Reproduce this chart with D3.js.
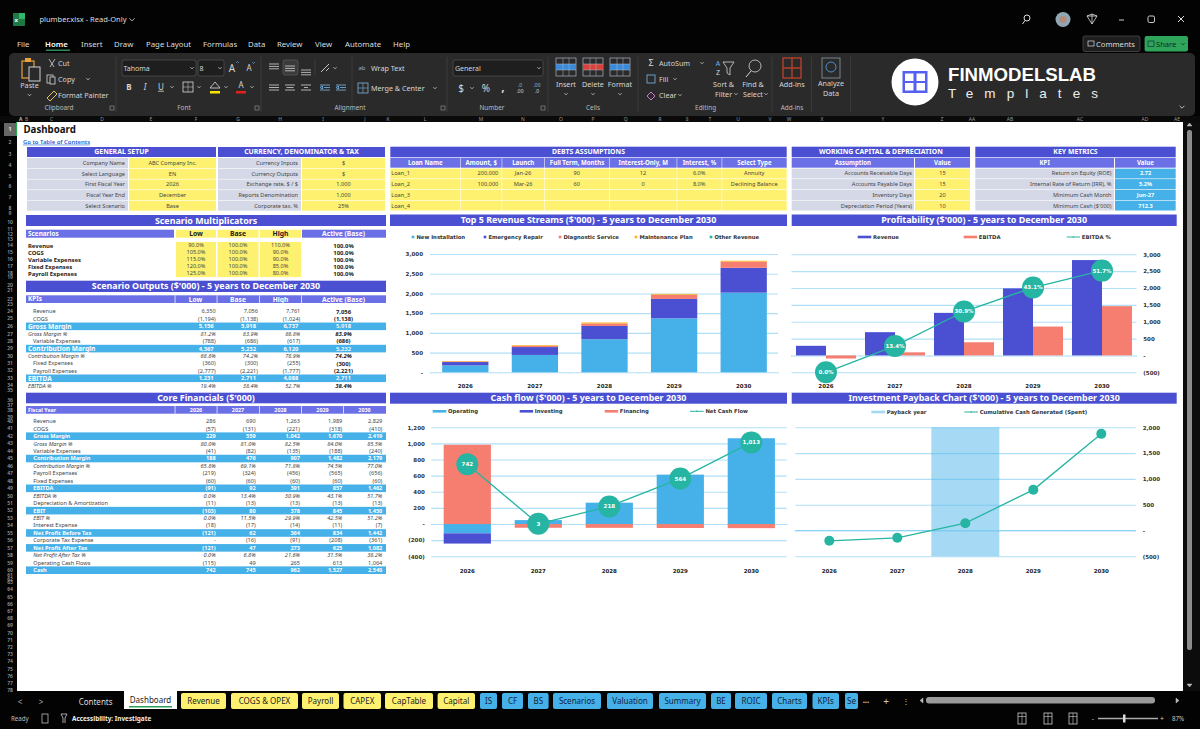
<!DOCTYPE html>
<html><head><meta charset="utf-8"><title>plumber.xlsx - Dashboard</title>
<script src="https://cdn.jsdelivr.net/npm/d3@7/dist/d3.min.js"></script>
<style>html,body{margin:0;padding:0;background:#000;overflow:hidden}svg{display:block}</style>
</head><body><div id="app"></div>
<script>
// ---------- DATA ----------
const years = ["2026","2027","2028","2029","2030"];
const newInstallation = [175,440,840,1370,2020];
const emergencyRepair = [85,200,335,490,630];
const diagnosticService = [15,35,65,110,160];
const maintenancePlan = [11,15,23,19,19];
const otherRevenue = [0,0,0,0,0];
const revenueNames = ["New Installation","Emergency Repair","Diagnostic Service","Maintenance Plan","Other Revenue"];
const profitRevenue = [286,690,1263,1989,2829];
const profitEbitda = [-91,92,391,857,1462];
const profitEbitdaPct = [0.0,13.4,30.9,43.1,51.7];
const cashOperating = [-115,49,265,613,1064];
const cashInvesting = [-127,0,0,0,0];
const cashFinancing = [984,-46,-47,-49,-51];
const cashNet = [742,3,218,564,1013];
const paybackCumulative = [-200,-142,142,788,1873];
const paybackYear = ["2028"];
const ticksRevenue = [0,500,1000,1500,2000,2500,3000];
const ticksProfit = [-500,0,500,1000,1500,2000,2500,3000];
const ticksCash = [-400,-200,0,200,400,600,800,1000,1200];
const ticksPayback = [-500,0,500,1000,1500,2000];

const setupLabels = ["Company Name","Select Language","First Fiscal Year","Fiscal Year End","Select Scenario"];
const setupValues = ["ABC Company Inc.","EN","2026","December","Base"];
const currencyLabels = ["Currency Inputs","Currency Outputs","Exchange rate, $ / $","Reports Denomination","Corporate tax, %"];
const currencyValues = ["$","$","1.000","1,000","25%"];
const debtHeaders = ["Loan Name","Amount, $","Launch","Full Term, Months","Interest-Only, M","Interest, %","Select Type"];
const debtRows = [["Loan_1","200,000","Jan-26","90","12","6.0%","Annuity"],["Loan_2","100,000","Mar-26","60","0","8.0%","Declining Balance"],["Loan_3","","","","","",""],["Loan_4","","","","","",""]];
const wcLabels = ["Accounts Receivable Days","Accounts Payable Days","Inventory Days","Depreciation Period (Years)"];
const wcValues = ["15","15","20","10"];
const kpiLabels = ["Return on Equity (ROE)","Internal Rate of Return (IRR), %","Minimum Cash Month","Minimum Cash ($'000)"];
const kpiValues = ["2.72","5.2%","Jun-27","712.3"];
const scenarioNames = ["Revenue","COGS","Variable Expenses","Fixed Expenses","Payroll Expenses"];
const scenarioLow = ["90.0%","105.0%","115.0%","120.0%","125.0%"];
const scenarioBase = ["100.0%","100.0%","100.0%","100.0%","100.0%"];
const scenarioHigh = ["110.0%","90.0%","90.0%","85.0%","80.0%"];
const scenarioActive = ["100.0%","100.0%","100.0%","100.0%","100.0%"];
const outputLabels = ["Revenue","COGS","Gross Margin","Gross Margin %","Variable Expenses","Contribution Margin","Contribution Margin %","Fixed Expenses","Payroll Expenses","EBITDA","EBITDA %"];
const outputLow = ["6,350","(1,194)","5,156","81.2%","(788)","4,367","68.8%","(360)","(2,777)","1,231","19.4%"];
const outputBase = ["7,056","(1,138)","5,918","83.9%","(686)","5,232","74.2%","(300)","(2,221)","2,711","38.4%"];
const outputHigh = ["7,761","(1,024)","6,737","86.8%","(617)","6,120","78.9%","(255)","(1,777)","4,088","52.7%"];
const outputActive = ["7,056","(1,138)","5,918","83.9%","(686)","5,232","74.2%","(300)","(2,221)","2,711","38.4%"];
const coreLabels = ["Revenue","COGS","Gross Margin","Gross Margin %","Variable Expenses","Contribution Margin","Contribution Margin %","Payroll Expenses","Fixed Expenses","EBITDA","EBITDA %","Depreciation & Amortization","EBIT","EBIT %","Interest Expense","Net Profit Before Tax","Corporate Tax Expense","Net Profit After Tax","Net Profit After Tax %","Operating Cash Flows","Cash"];
const core2026 = ["286","(57)","229","80.0%","(41)","188","65.8%","(219)","(60)","(91)","0.0%","(11)","(103)","0.0%","(18)","(121)","-","(121)","0.0%","(115)","742"];
const core2027 = ["690","(131)","559","81.0%","(82)","476","69.1%","(324)","(60)","92","13.4%","(13)","80","11.5%","(17)","62","(16)","47","6.8%","49","745"];
const core2028 = ["1,263","(221)","1,042","82.5%","(135)","907","71.8%","(456)","(60)","391","30.9%","(13)","378","29.9%","(14)","364","(91)","273","21.6%","265","962"];
const core2029 = ["1,989","(318)","1,670","84.0%","(188)","1,482","74.5%","(565)","(60)","857","43.1%","(13)","845","42.5%","(11)","834","(208)","625","31.5%","613","1,527"];
const core2030 = ["2,829","(410)","2,419","85.5%","(240)","2,179","77.0%","(656)","(60)","1,462","51.7%","(13)","1,450","51.2%","(7)","1,442","(361)","1,082","38.2%","1,064","2,540"];
const bandLabels = ["Gross Margin","Contribution Margin","EBITDA","EBIT","Net Profit Before Tax","Net Profit After Tax","Cash"];
const menuItems = ["File","Home","Insert","Draw","Page Layout","Formulas","Data","Review","View","Automate","Help"];
const yellowTabs = ["Revenue","COGS & OPEX","Payroll","CAPEX","CapTable","Capital"];
const blueTabs = ["IS","CF","BS","Scenarios","Valuation","Summary","BE","ROIC","Charts","KPIs","Se"];
const columnLetters = ["C","D","E","F","G","H","I","J","K","L","M","N","O","P","Q","R","S","T","U","V","W","X","Y","Z","AA","AB","AC","AD","AE"];

// ---------- COLOURS / FONTS ----------
const BLUE="#4B50D2", SUB="#6B70E6", SKY="#45B1E8", SALMON="#F57E70", TEAL="#25B5A2", GOLD="#FDB515", YEL="#FFF170", GREY="#D5D8E6", GRID="#B0E0F7";
const NOTO='"Noto Sans",sans-serif', DJ='"DejaVu Sans",sans-serif', LIB='"Liberation Sans",sans-serif';
const svg = d3.select("#app").append("svg").attr("width",1200).attr("height",729).attr("viewBox","0 0 1200 729");
const t = (g,x,y,s,o={}) => g.append("text").attr("x",x).attr("y",y).attr("dy",".35em").text(s)
  .attr("font-family",o.font||NOTO).attr("font-size",o.size||5.6).attr("font-weight",o.w||400)
  .attr("font-style",o.i?"italic":"normal").attr("fill",o.c||"#444").attr("text-anchor",o.a||"start")
  .attr("text-decoration",o.u?"underline":null);
const r = (g,x0,y0,x1,y1,c,o={}) => g.append("rect").attr("x",x0).attr("y",y0).attr("width",x1-x0).attr("height",y1-y0).attr("fill",c)
  .attr("rx",o.rx||0).attr("stroke",o.s||"none").attr("stroke-width",o.sw||1);
const p = (g,d,c,sw=1,f="none") => g.append("path").attr("d",d).attr("stroke",c).attr("stroke-width",sw).attr("fill",f);
const chev = (g,x,y,c="#ccc",s=1.8) => p(g,`M${x-s},${y-s/2}L${x},${y+s/2}L${x+s},${y-s/2}`,c,.8);

// ---------- WINDOW CHROME ----------
const chrome = svg.append("g");
r(chrome,0,0,1200,729,"#030303");
r(chrome,13,13,25,26,"#1D7A45",{rx:1}); r(chrome,19,13,25,19,"#34B56F"); t(chrome,14.5,20,"x",{c:"#fff",size:6,w:700});
t(chrome,39.4,19.6,"plumber.xlsx  -  Read-Only",{c:"#ddd",size:7.5});
chev(chrome,132,19.6,"#ddd",2.6);
const menuX=[17,45,81,114,146,203,248,277,315,345,393];
menuItems.forEach((m,i)=>t(chrome,menuX[i],44.5,m,{c:i==1?"#fff":"#ddd",size:7.8,w:i==1?600:400}));
r(chrome,46,49.6,70,50.8,"#3AA76D");
// top right
chrome.append("circle").attr("cx",1027).attr("cy",18).attr("r",3).attr("fill","none").attr("stroke","#ddd");
p(chrome,"M1025,20.5L1022.5,24","#ddd");
chrome.append("circle").attr("cx",1063).attr("cy",19.5).attr("r",7.5).attr("fill","#8FA6B5");
chrome.append("circle").attr("cx",1063).attr("cy",19.5).attr("r",3.6).attr("fill","#B58C78");
p(chrome,"M1087,16l5,-2l5,2l-5,8z M1087,16h10 M1092,14v10","#ddd",.8);
p(chrome,"M1119,20h5","#ccc",1);
r(chrome,1148,16,1154.5,22.5,"none",{s:"#ccc",sw:1,rx:1.5});
p(chrome,"M1178,16l6,6 M1184,16l-6,6","#ddd",1);
r(chrome,1083,36,1140,51.5,"#1f1f1f",{s:"#4a4a4a",sw:.8,rx:2});
r(chrome,1088,41,1094,46,"none",{s:"#ddd",sw:.7});
t(chrome,1096,44,"Comments",{c:"#ddd",size:7.6});
r(chrome,1144.6,36,1188,51.5,"#2EA55A",{rx:2});
r(chrome,1148,41,1154,46.5,"none",{s:"#134",sw:.7});
t(chrome,1156,44,"Share",{c:"#0c2f1b",size:7.6}); chev(chrome,1183,44,"#0c2f1b",1.6);

// ---------- RIBBON ----------
const rb = svg.append("g");
const ink="#d6d6d6";
r(rb,9,53,1195,116,"#2A2A2A",{rx:5});
[116,261,352,447,548,638,772,811.6,850.6].forEach(x=>p(rb,`M${x},57V112`,"#444",.7));
p(rb,"M315,59V76","#444",.7);
[["Clipboard",59],["Font",184],["Alignment",350],["Number",492],["Cells",593],["Editing",705.6],["Add-ins",792]].forEach(d=>t(rb,d[1],108,d[0],{a:"middle",c:"#bbb",size:6.4}));
[112,257,443,543].forEach(x=>r(rb,x-2,106,x+2,110,"none",{s:"#999",sw:.6}));
// clipboard group
r(rb,22,61,34,78,"none",{s:"#E8A33D",sw:1.2}); r(rb,25,58,31,62,"#E8A33D"); r(rb,29,67,40,81,"#2A2A2A",{s:"#cfcfcf",sw:1});
t(rb,29.5,85,"Paste",{a:"middle",c:ink,size:7.2}); chev(rb,29.5,95,ink,1.6);
p(rb,"M49,59l5,8 M55,59l-5,8",ink,.8); t(rb,58,63,"Cut",{c:ink,size:7.2});
r(rb,47,75,53,83,"none",{s:ink,sw:.8}); r(rb,50,77,55,84,"#2A2A2A",{s:ink,sw:.8}); t(rb,58,79,"Copy",{c:ink,size:7.2}); chev(rb,88,79,ink,1.6);
p(rb,"M47,98l7,-7l3,3l-7,7z","#E8C060",1); t(rb,58,95,"Format Painter",{c:ink,size:7.2});
// font group
r(rb,122,60,196,76,"#1E1E1E",{s:"#555",sw:.7,rx:2}); t(rb,123.5,68.5,"Tahoma",{c:ink,size:7}); chev(rb,192,68,ink,1.6);
r(rb,198,60,224,76,"#1E1E1E",{s:"#555",sw:.7,rx:2}); t(rb,199.5,68.5,"8",{c:ink,size:7}); chev(rb,220,68,ink,1.6);
t(rb,232,68,"A",{a:"middle",c:ink,size:10}); t(rb,249,68,"A",{a:"middle",c:ink,size:8});
p(rb,"M236,63l1.5,-1.5l1.5,1.5","#6a9fd8",.7); p(rb,"M252,62l1.5,1.5l1.5,-1.5","#6a9fd8",.7);
t(rb,129,87,"B",{a:"middle",c:ink,size:8,w:700}); t(rb,145,87,"I",{a:"middle",c:ink,size:8,i:1}); t(rb,161,87,"U",{a:"middle",c:ink,size:8,u:1});
chev(rb,172,87,ink,1.5); r(rb,183,82,193,92,"none",{s:ink,sw:.8}); p(rb,"M188,82V92M183,87H193",ink,.5); chev(rb,199,87,ink,1.5);
p(rb,"M210,88l5,-6l5,6z","#ddd",.8); r(rb,210,91,220,93.5,"#F7E300"); chev(rb,226,87,ink,1.5);
t(rb,241,85.5,"A",{a:"middle",c:ink,size:8}); r(rb,236,91,246,93.5,"#E2201C"); chev(rb,252,87,ink,1.5);
// alignment group
r(rb,283,60,298,75,"#3a3a3a",{s:"#666",sw:.6,rx:2});
[[274,64],[290,66],[306,70]].forEach(a=>p(rb,`M${a[0]-5},${a[1]}h10M${a[0]-5},${a[1]+2.4}h10M${a[0]-5},${a[1]+4.8}h10`,ink,.8));
p(rb,"M321,72l8,-8M326,71l3,-3",ink,.9); chev(rb,335,68,ink,1.5);
[[274,0],[290,1.5],[306,3]].forEach(a=>p(rb,`M${a[0]-5},85h10M${a[0]-5+a[1]},87.5h${10-2*a[1]}M${a[0]-5},90h10`,ink,.8));
[325,341].forEach(x=>p(rb,`M${x-5},85h10M${x-1},87.5h6M${x-5},90h10M${x-5},87.5l2.5,-1.5v3z`,"#7db8e6",.8));
t(rb,362,68,"ab",{a:"middle",c:"#aaa",size:6}); t(rb,371,68,"Wrap Text",{c:ink,size:7.2});
r(rb,358,83,368,93,"none",{s:"#78b4e2",sw:.8}); p(rb,"M358,88h10M363,83v10","#78b4e2",.6); t(rb,371,88,"Merge & Center",{c:ink,size:7.2}); chev(rb,435,88,ink,1.5);
// number group
r(rb,453,60,543,76,"#1E1E1E",{s:"#555",sw:.7,rx:2}); t(rb,455,68.5,"General",{c:ink,size:7}); chev(rb,539,68,ink,1.6);
t(rb,461,88,"$",{a:"middle",c:ink,size:10}); chev(rb,472,88,ink,1.5); t(rb,486,88,"%",{a:"middle",c:ink,size:10}); t(rb,503,87,",",{a:"middle",c:ink,size:12,w:700});
t(rb,520,85,".0",{a:"middle",c:"#7db8e6",size:5}); t(rb,520,91,".00",{a:"middle",c:ink,size:5}); t(rb,537,85,".00",{a:"middle",c:"#7db8e6",size:5}); t(rb,537,91,".0",{a:"middle",c:ink,size:5});
// cells
[[566,"Insert","#3B8AD8"],[593,"Delete","#D8423B"],[620,"Format","#3B8AD8"]].forEach(c=>{
  r(rb,c[0]-10,58,c[0]+10,76,"none",{s:"#a8b4c4",sw:.7}); r(rb,c[0]-10,64,c[0]+10,70,c[2]);
  p(rb,`M${c[0]-10},64h20M${c[0]-10},70h20M${c[0]-3},58v18M${c[0]+3},58v18`,"#a8b4c4",.5);
  t(rb,c[0],84,c[1],{a:"middle",c:ink,size:7.2}); chev(rb,c[0],94,ink,1.5);});
// editing
t(rb,651,63,"Σ",{a:"middle",c:ink,size:9}); t(rb,659,63,"AutoSum",{c:ink,size:7.2}); chev(rb,702,63,ink,1.5);
r(rb,647,75,655,83,"none",{s:"#7db8e6",sw:.8}); t(rb,659,79,"Fill",{c:ink,size:7.2}); chev(rb,675,79,ink,1.5);
p(rb,"M647,96l4,-4l4,4l-4,4z","#D77BD0",1); t(rb,659,95,"Clear",{c:ink,size:7.2}); chev(rb,680,95,ink,1.5);
t(rb,718,64,"A",{a:"middle",c:"#6fb1e8",size:7}); t(rb,718,73,"Z",{a:"middle",c:ink,size:7});
p(rb,"M723,62h11l-4,6v7l-3,-2v-5z",ink,.8);
t(rb,723.6,84,"Sort &",{a:"middle",c:ink,size:7.2}); t(rb,723.6,94,"Filter",{a:"middle",c:ink,size:7.2}); chev(rb,736,94,ink,1.5);
rb.append("circle").attr("cx",755).attr("cy",66).attr("r",6).attr("fill","none").attr("stroke",ink).attr("stroke-width",.8); p(rb,"M751,71l-5,6",ink,1);
t(rb,753,84,"Find &",{a:"middle",c:ink,size:7.2}); t(rb,753,94,"Select",{a:"middle",c:ink,size:7.2}); chev(rb,766,94,ink,1.5);
// add-ins, analyze
r(rb,783,58,801,78,"none",{s:"#B5402A",sw:1.4}); p(rb,"M792,58v20M783,68h18","#B5402A",1.4);
t(rb,792,84,"Add-ins",{a:"middle",c:ink,size:7.2});
r(rb,822,58,840,78,"none",{s:"#8d98a6",sw:.8}); rb.append("circle").attr("cx",831).attr("cy",67).attr("r",5).attr("fill","none").attr("stroke","#4d8fd0");
t(rb,831,83,"Analyze",{a:"middle",c:ink,size:7.2}); t(rb,831,93,"Data",{a:"middle",c:ink,size:7.2});
// logo
rb.append("circle").attr("cx",915).attr("cy",82).attr("r",23.5).attr("fill","#fff");
r(rb,902.5,71,927.5,93,"#5560F0"); [[905,73.5],[916.5,73.5],[905,83],[916.5,83]].forEach(a=>r(rb,a[0],a[1],a[0]+8.5,a[1]+7.5,"#fff"));
t(rb,948,74.5,"FINMODELSLAB",{font:LIB,c:"#fff",size:18,w:700}).attr("textLength",148).attr("lengthAdjust","spacingAndGlyphs");
t(rb,948,93.5,"Templates",{font:LIB,c:"#eee",size:13.5}).attr("textLength",150).attr("lengthAdjust","spacing");
chev(rb,1182,107,"#ddd",2.4);

// ---------- SHEET FRAME ----------
const sh = svg.append("g");
r(sh,0,116,1200,122,"#0a0a0a");
const colX=[51.7,102,151,196,238,280,323,365,388,425,481,523,561,593,625.6,660,687,710,738,770,789,822,883,942,972,1010,1080,1145,1177];
columnLetters.forEach((c,i)=>t(sh,colX[i],119,c,{a:"middle",c:"#999",size:5}));
t(sh,19,119,"A",{c:"#bbb",size:5,w:700});t(sh,25,119,"B",{c:"#999",size:5});
r(sh,17,122,1183,691,"#fff");
r(sh,4,123,16,136,"#666"); r(sh,16,122,17.2,136,"#2EA55A");
const rowCenters=[129.5,142,154,165,176,186.5,197,208,213,222.7,229,234.7,239,245.5,252.5,259.5,266.5,273.5,277.5,285.3,290.5,299,304,311.5,318.5,326,334,341,348.3,356,363.3,370.5,378,385.5,390,400,405,410.5,417,421.3];
for(let i=41;i<=60;i++) rowCenters.push(421.3+7.445*(i-40));
for(let i=61;i<=62;i++) rowCenters.push(574.8+(i-61)*4);
for(let i=63;i<=78;i++) rowCenters.push(582.5+(i-63)*7.2);
rowCenters.forEach((y,i)=>t(sh,10,y,String(i+1),{a:"middle",c:i==0?"#fff":"#999",size:i==0?5.4:5,w:600}));
// vertical scrollbar
r(sh,1183,122,1200,691,"#0c0c0c"); r(sh,1187,130,1192,650,"#8c8c8c",{rx:2});
p(sh,"M1187,126l2.5,-3l2.5,3z","#bbb",.5,"#bbb"); p(sh,"M1187,684l2.5,3l2.5,-3z","#bbb",.5,"#bbb");
// tabs
const tb=svg.append("g");
t(tb,20,702,"<",{a:"middle",c:"#aaa",size:8}); t(tb,41,702,">",{a:"middle",c:"#aaa",size:8});
t(tb,95.6,702,"Contents",{a:"middle",c:"#ddd",size:8});
r(tb,124,691,177,709,"#fff"); t(tb,150.5,700.5,"Dashboard",{a:"middle",c:"#222",size:8}); r(tb,129,706,172,707.5,"#2B9E55");
const yTabX=[[181,226],[231,298],[302,339],[343.5,381],[385,433],[437.6,475]];
yellowTabs.forEach((n,i)=>{r(tb,yTabX[i][0],693,yTabX[i][1],709,"#FFF170",{rx:2});t(tb,(yTabX[i][0]+yTabX[i][1])/2,701.5,n,{a:"middle",c:"#222",size:8});});
const bTabX=[[480,497],[502,523],[528,548.6],[553,601],[607,653],[659,706],[711,731],[735,767],[772,807],[812.5,839],[845,858]];
blueTabs.forEach((n,i)=>{r(tb,bTabX[i][0],693,bTabX[i][1],709,SKY,{rx:2});t(tb,(bTabX[i][0]+bTabX[i][1])/2,701.5,n,{a:"middle",c:"#12233a",size:8});});
t(tb,866,700,"...",{a:"middle",c:"#ccc",size:8,w:700}); t(tb,886,701,"+",{a:"middle",c:"#ccc",size:10}); t(tb,906,701,"⋮",{a:"middle",c:"#ccc",size:8});
r(tb,926,697,1155,703.5,"#9a9a9a",{rx:3}); p(tb,"M923,698l-3,2.5l3,2.5z","#bbb",.5,"#bbb"); p(tb,"M1176,698l3,2.5l-3,2.5z","#bbb",.5,"#bbb");
t(tb,11,718.5,"Ready",{c:"#bbb",size:6.2}); r(tb,42,714,48,723,"none",{s:"#bbb",sw:.8});
p(tb,"M61,714h6l-2,4v5M61,714l2,4v5","#ccc",.8); t(tb,72,718.5,"Accessibility: Investigate",{c:"#eee",size:6.4,w:700});
[1022,1048,1073].forEach(x=>{r(tb,x-4,713,x+4,724,"none",{s:"#ccc",sw:.8});p(tb,`M${x-4},716.5h8M${x},713v11`,"#ccc",.6);});
t(tb,1093,718.5,"-",{a:"middle",c:"#ccc",size:7}); p(tb,"M1098,718.5H1158","#aaa",1.3); r(tb,1123,714.5,1125.5,722.5,"#ddd"); t(tb,1162,718.5,"+",{a:"middle",c:"#ccc",size:7}); t(tb,1172,718.5,"87%",{c:"#ccc",size:6.2});

// ---------- SHEET TABLES ----------
const s = svg.append("g");
t(s,23.5,129.7,"Dashboard",{c:"#111",size:9.7,w:700});
t(s,23,141.6,"Go to Table of Contents",{c:"#1F5FD6",size:5.9,w:600,u:1});
const head=(x0,x1,y0,y1,label,size=6.9,col=BLUE)=>{r(s,x0,y0,x1,y1,col);t(s,(x0+x1)/2,(y0+y1)/2,label,{a:"middle",c:"#fff",size,w:700});};
// setup blocks
head(27,216,147,157,"GENERAL SETUP"); head(218,385,147,157,"CURRENCY, DENOMINATOR & TAX");
const rowY=[163,173.7,184.2,195,205.7], rowEdges=[157.7,168.4,179.2,189.8,200.6,211];
setupLabels.forEach((l,i)=>{const y0=rowEdges[i]+.3,y1=rowEdges[i+1]-.3;
  r(s,27,y0,128,y1,GREY);r(s,129,y0,216,y1,YEL);t(s,125,rowY[i],l,{a:"end"});t(s,172.5,rowY[i],setupValues[i],{a:"middle"});
  r(s,218,y0,301,y1,GREY);r(s,302,y0,385,y1,YEL);t(s,298,rowY[i],currencyLabels[i],{a:"end"});t(s,343.5,rowY[i],currencyValues[i],{a:"middle"});});
// debts
head(390.3,786.7,146.7,157.3,"DEBTS ASSUMPTIONS");
const debtE=[390.3,460.3,501.7,544.3,609.3,676.7,721.7,786.7];
debtHeaders.forEach((h,i)=>head(debtE[i]+(i?.5:0),debtE[i+1],158,167.7,h,6.1,SUB));
const dY=[173.3,184.3,195.3,206], dE=[168.3,178.8,189.6,200.3,210.8];
debtRows.forEach((row,j)=>row.forEach((v,i)=>{r(s,debtE[i]+(i?.5:0),dE[j]+.3,debtE[i+1],dE[j+1]-.3,YEL);
  const o=i==0?[debtE[0]+1,"start"]:i==1?[498.3,"end"]:[(debtE[i]+debtE[i+1])/2,"middle"];
  if(v) t(s,o[0],dY[j],v,{a:o[1]});}));
// working capital + KPIs
head(791.7,970,146.7,157.3,"WORKING CAPITAL & DEPRECIATION"); head(975.3,1175.7,146.7,157.3,"KEY METRICS");
head(791.7,914,158,167.7,"Assumption",6.1,SUB); head(915,970,158,167.7,"Value",6.1,SUB);
head(975.3,1114,158,167.7,"KPI",6.1,SUB); head(1115,1175.7,158,167.7,"Value",6.1,SUB);
wcLabels.forEach((l,j)=>{const y0=dE[j]+.3,y1=dE[j+1]-.3;
  r(s,791.7,y0,914,y1,GREY);r(s,915,y0,970,y1,YEL);t(s,912,dY[j],l,{a:"end"});t(s,942.5,dY[j],wcValues[j],{a:"middle"});
  r(s,975.3,y0,1114,y1,GREY);r(s,1115,y0,1175.7,y1,SKY);t(s,1111.5,dY[j],kpiLabels[j],{a:"end"});t(s,1145.5,dY[j],kpiValues[j],{a:"middle",c:"#fff",w:700});});
// scenario multiplicators
head(26,386,215,226,"Scenario Multiplicators",8.9);
const c3=[[176,216],[217.5,258.5],[260,301]];
r(s,26,229.7,174,237.7,SUB); t(s,28,233.7,"Scenarios",{c:"#fff",size:6.4,w:700});
["Low","Base","High"].forEach((h,i)=>{r(s,c3[i][0],229.7,c3[i][1],237.7,YEL);t(s,(c3[i][0]+c3[i][1])/2,233.7,h,{a:"middle",c:"#222",size:6.8,w:700});});
r(s,302,229.7,386,237.7,SUB); t(s,343.5,233.7,"Active (Base)",{a:"middle",c:"#fff",size:6.7,w:700});
scenarioNames.forEach((n,i)=>{const y=245.5+7*i;t(s,28,y,n,{c:"#222",size:5.9,w:700});
  [scenarioLow,scenarioBase,scenarioHigh].forEach((a,k)=>{r(s,c3[k][0],y-3.6,c3[k][1],y+3.6,YEL);t(s,(c3[k][0]+c3[k][1])/2,y,a[i],{a:"middle"});});
  t(s,343.5,y,scenarioActive[i],{a:"middle",c:"#222",size:5.9,w:700});});
// scenario outputs
head(26,386,280.7,292,"Scenario Outputs ($'000) - 5 years to December 2030",8.9);
r(s,26,295.3,386,303,SUB); t(s,28,299.2,"KPIs",{c:"#fff",size:6.4,w:700});
[[195.5,"Low"],[238,"Base"],[280.5,"High"],[343.5,"Active (Base)"]].forEach(d=>t(s,d[0],299.2,d[1],{a:"middle",c:"#fff",size:6.7,w:700}));
[174.7,216.7,259.3,301.3].forEach(x=>r(s,x,295.3,x+.7,303,"#fff"));
outputLabels.forEach((l,i)=>{const y=311.5+7.42*i, band=bandLabels.includes(l), pct=l.endsWith("%");
  if(band) r(s,26,y-3.8,386,y+3.8,SKY);
  const col=band?"#fff":"#444";
  t(s,band||pct?28:33,y,l,{c:col,size:band?6.6:5.6,w:band?700:400,i:pct});
  [[outputLow,215.7],[outputBase,258],[outputHigh,300.3]].forEach(a=>t(s,band?a[1]-2:a[1],y,a[0][i],{a:"end",c:col,size:band?5.8:5.6,w:band?700:400,i:pct}));
  t(s,343.5,y,outputActive[i],{a:"middle",c:band?"#fff":"#222",size:5.9,w:band?600:700,i:pct});});
// core financials
head(26,386,392.7,403.3,"Core Financials ($'000)",8.9);
r(s,26,406,386,413.7,SUB); t(s,28,409.9,"Fiscal Year",{c:"#fff",size:5.4,w:700});
[174.7,216.7,259.3,301.3,343.3].forEach(x=>r(s,x,406,x+.7,413.7,"#fff"));
years.forEach((y,i)=>t(s,[196,238,280.5,322.5,364.5][i],409.9,y,{a:"middle",c:"#fff",size:5.4,w:700}));
coreLabels.forEach((l,i)=>{const y=421.3+7.445*i, band=bandLabels.includes(l), pct=l.endsWith("%");
  if(band) r(s,26,y-3.8,386,y+3.8,SKY);
  const col=band?"#fff":"#444";
  t(s,33.3,y,l,{c:col,size:5.6,w:band?700:400,i:pct});
  [[core2026,215.7],[core2027,255.7],[core2028,300],[core2029,342.3],[core2030,382.3]].forEach(a=>t(s,a[1],y,a[0][i],{a:"end",c:col,size:5.6,w:band?700:400,i:pct}));});

// ---------- CHARTS ----------
const TICK={font:DJ,size:5.3,w:700,c:"#333"};
const fmtTick=v=>v===0?"-":v<0?`(${d3.format(",")(-v)})`:d3.format(",")(v);
const styleAxis=(g)=>{g.select(".domain").remove();
  g.selectAll(".tick line").attr("stroke",GRID).attr("stroke-width",1.1);
  g.selectAll(".tick text").attr("font-family",DJ).attr("font-size",5.5).attr("font-weight",700).attr("fill","#333");};
function frame(title,x0,x1,y0,y1){const c=svg.append("g");r(c,x0,y0,x1,y1,BLUE);t(c,(x0+x1)/2,(y0+y1)/2,title,{a:"middle",c:"#fff",size:8.95,w:700});return c;}
function bottomAxis(c,x,baseY,labelY){
  const g=c.append("g").attr("transform",`translate(0,${labelY})`).call(d3.axisBottom(x).tickSize(0).tickPadding(0));
  g.select(".domain").remove();
  g.selectAll("text").attr("dy",".35em").attr("y",0).attr("font-family",DJ).attr("font-size",5.5).attr("font-weight",700).attr("fill","#222");
  // tick marks at the category boundaries along the zero line
  const step=x.step(),[a,b]=x.range();
  c.append("g").selectAll("line").data(d3.range(x.domain().length+1)).join("line")
    .attr("x1",i=>a+i*step).attr("x2",i=>a+i*step).attr("y1",baseY).attr("y2",baseY+1.6).attr("stroke",GRID).attr("stroke-width",.7);
}
function legendRect(c,x,y,w,label,color){r(c,x,y-1.3,x+w,y+1.3,color);t(c,x+w+1.7,y,label,TICK);}
function legendLine(c,x,y,w,label,color){p(c,`M${x},${y}h${w}`,color,1);c.append("circle").attr("cx",x+w/2).attr("cy",y).attr("r",.8).attr("fill",color);t(c,x+w+1.7,y,label,TICK);}
function dots(c,x,y,vals,rad,labels){
  c.append("path").datum(vals).attr("fill","none").attr("stroke",TEAL).attr("stroke-width",1.3)
   .attr("d",d3.line().x((d,i)=>x(years[i])+x.bandwidth()/2).y(d=>y(d)));
  const n=c.append("g").selectAll("g").data(vals).join("g").attr("transform",(d,i)=>`translate(${x(years[i])+x.bandwidth()/2},${y(d)})`);
  n.append("circle").attr("r",rad).attr("fill",TEAL);
  if(labels) n.append("text").attr("text-anchor","middle").attr("dy",".35em").attr("font-family",DJ).attr("font-size",5.5).attr("font-weight",700).attr("fill","#fff").text((d,i)=>labels[i]);
}

// Top 5 revenue streams
{const c=frame("Top 5 Revenue Streams ($'000) - 5 years to December 2030",390,787,214.5,226);
 const x=d3.scaleBand().domain(years).range([430.5,778.5]).paddingInner(.335).paddingOuter(.1675);
 const y=d3.scaleLinear().domain([0,3000]).range([372.3,254]);
 c.append("g").attr("transform","translate(430,0)").call(d3.axisLeft(y).tickValues(ticksRevenue).tickFormat(fmtTick).tickSize(-348).tickPadding(7)).call(styleAxis);
 const rows=years.map((yr,i)=>({yr,a:newInstallation[i],b:emergencyRepair[i],c:diagnosticService[i],d:maintenancePlan[i],e:otherRevenue[i]}));
 const series=d3.stack().keys(["a","b","c","d","e"])(rows), cols=[SKY,BLUE,SALMON,GOLD,TEAL];
 c.append("g").selectAll("g").data(series).join("g").attr("fill",(d,i)=>cols[i]).selectAll("rect").data(d=>d).join("rect")
  .attr("x",d=>x(d.data.yr)).attr("width",x.bandwidth()).attr("y",d=>y(d[1])).attr("height",d=>y(d[0])-y(d[1]));
 bottomAxis(c,x,372.3,385.7);
 [413,485,560,636,711].forEach((lx,i)=>{r(c,lx-1.3,235.7,lx+1.3,238.3,cols[i]);t(c,lx+3.4,237,revenueNames[i],TICK);});}

// Profitability
{const c=frame("Profitability ($'000) - 5 years to December 2030",791.7,1176.7,214.5,226);
 const x=d3.scaleBand().domain(years).range([791.5,1136.5]).paddingInner(.13).paddingOuter(.065);
 const sub=d3.scaleBand().domain(["rev","ebitda"]).range([0,x.bandwidth()]);
 const y=d3.scaleLinear().domain([-500,3000]).range([372.3,254.3]);
 const y2=d3.scaleLinear().domain([0,60]).range([372.3,254.3]);
 c.append("g").attr("transform","translate(1136.5,0)").call(d3.axisRight(y).tickValues(ticksProfit).tickFormat(fmtTick).tickSize(-345).tickPadding(6.8)).call(styleAxis);
 [["rev",profitRevenue,BLUE],["ebitda",profitEbitda,SALMON]].forEach(([k,v,col])=>{
  c.append("g").selectAll("rect").data(v).join("rect").attr("fill",col).attr("x",(d,i)=>x(years[i])+sub(k)).attr("width",sub.bandwidth())
   .attr("y",d=>y(Math.max(d,0))).attr("height",d=>Math.abs(y(d)-y(0)));});
 dots(c,x,y2,profitEbitdaPct,11,profitEbitdaPct.map(d=>d.toFixed(1)+"%"));
 bottomAxis(c,x,y(0),386.3);
 legendRect(c,857.7,237,13.6,"Revenue",BLUE); legendRect(c,963.7,237,13.4,"EBITDA",SALMON); legendLine(c,1066.7,237,13.4,"EBITDA %",TEAL);}

// Cash flow
{const c=frame("Cash flow ($'000) - 5 years to December 2030",390,787,392.7,403.7);
 const x=d3.scaleBand().domain(years).range([431.8,786.8]).paddingInner(.335).paddingOuter(.1675);
 const y=d3.scaleLinear().domain([-400,1200]).range([556.3,427.3]);
 c.append("g").attr("transform","translate(431.3,0)").call(d3.axisLeft(y).tickValues(ticksCash).tickFormat(fmtTick).tickSize(-355.5).tickPadding(6.5)).call(styleAxis);
 const rows=years.map((yr,i)=>({yr,op:cashOperating[i],inv:cashInvesting[i],fin:cashFinancing[i]}));
 const series=d3.stack().keys(["op","inv","fin"]).offset(d3.stackOffsetDiverging)(rows), cols=[SKY,BLUE,SALMON];
 c.append("g").selectAll("g").data(series).join("g").attr("fill",(d,i)=>cols[i]).selectAll("rect").data(d=>d).join("rect")
  .attr("x",d=>x(d.data.yr)).attr("width",x.bandwidth()).attr("y",d=>y(d[1])).attr("height",d=>y(d[0])-y(d[1]));
 dots(c,x,y,cashNet,11,cashNet.map(d3.format(",")));
 bottomAxis(c,x,y(0),571);
 legendRect(c,432.7,411.3,13.6,"Operating",SKY); legendRect(c,519.7,411.3,13.4,"Investing",BLUE); legendRect(c,604.7,411.3,13.4,"Financing",SALMON); legendLine(c,690,411.3,13.7,"Net Cash Flow",TEAL);}

// Investment payback
{const c=frame("Investment Payback Chart ($'000) - 5 years to December 2030",791.7,1176.7,392.7,403.7);
 const x=d3.scaleBand().domain(years).range([795.3,1135.3]);
 const y=d3.scaleLinear().domain([-500,2000]).range([556.3,427.3]);
 c.append("g").attr("transform","translate(1135.7,0)").call(d3.axisRight(y).tickValues(ticksPayback).tickFormat(fmtTick).tickSize(-340.4).tickPadding(7)).call(styleAxis);
 c.append("g").selectAll("rect").data(paybackYear).join("rect").attr("x",d=>x(d)).attr("width",x.bandwidth()).attr("y",y(2000)).attr("height",y(-500)-y(2000)).attr("fill",SKY).attr("opacity",.48);
 p(c,`M795.3,${y(0)}H1135.7`,"#7CCBF0",.8);
 dots(c,x,y,paybackCumulative,5,null);
 bottomAxis(c,x,y(0),571);
 legendRect(c,871.3,412,13.7,"Payback year","#A5D8F3"); legendLine(c,964.3,412,13.7,"Cumulative Cash Generated (Spent)",TEAL);}
</script></body></html>
